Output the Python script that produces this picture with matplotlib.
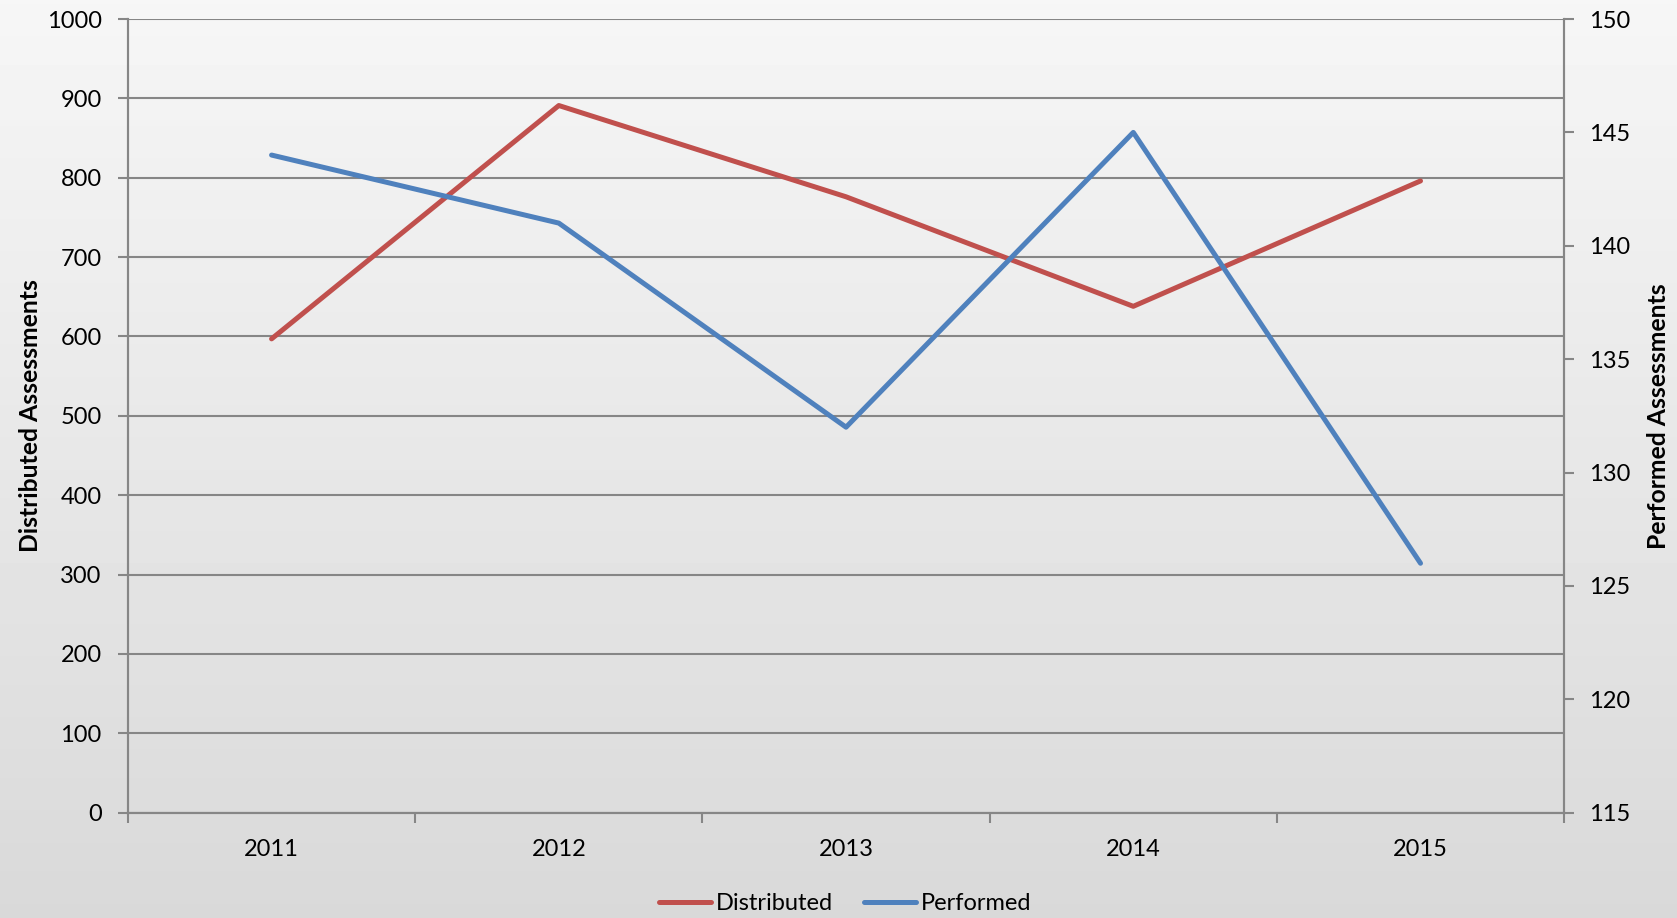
import matplotlib
matplotlib.use("Agg")
import matplotlib.pyplot as plt
import numpy as np

years = ["2011", "2012", "2013", "2014", "2015"]
distributed = [597, 891, 776, 638, 796]
performed = [144, 141, 132, 145, 126]

red = "#C0504D"
blue = "#4F81BD"
grey = "#868686"

plt.rcParams["font.family"] = ["Lato", "DejaVu Sans"]

fig = plt.figure(figsize=(16.77, 9.18), dpi=100)

# gradient background over the whole figure
bg = fig.add_axes([0, 0, 1, 1], zorder=-10)
grad = np.linspace(0.965, 0.85, 256).reshape(-1, 1)
bg.imshow(grad, aspect="auto", cmap="gray", vmin=0, vmax=1, extent=[0, 1, 0, 1])
bg.axis("off")

ax = fig.add_axes([0.0763, 0.1147, 0.8564, 0.8646])
ax.set_facecolor("none")
ax2 = ax.twinx()

x = np.arange(1, len(years) + 1)
ax.plot(x, distributed, color=red, lw=3.6, solid_capstyle="round", label="Distributed", zorder=3)
ax2.plot(x, performed, color=blue, lw=3.6, solid_capstyle="round", label="Performed", zorder=3)

ax.set_xlim(0.5, len(years) + 0.5)
ax.set_ylim(0, 1000)
ax.set_yticks(np.arange(0, 1001, 100))
ax2.set_ylim(115, 150)
ax2.set_yticks(np.arange(115, 151, 5))

ax.set_xticks(x)
ax.set_xticklabels(years)
ax.set_xticks(np.arange(0.5, len(years) + 1, 1), minor=True)
ax.tick_params(axis="x", which="major", length=0, pad=19, labelsize=17)
ax.tick_params(axis="x", which="minor", length=7, width=1.5, color=grey, direction="out")
ax.tick_params(axis="y", length=7, width=1.5, color=grey, pad=12, labelsize=17)
ax2.tick_params(axis="y", length=7, width=1.5, color=grey, pad=11, labelsize=17)

ax.grid(axis="y", color=grey, lw=1.5)
ax.set_axisbelow(True)

for a in (ax, ax2):
    for s in a.spines.values():
        s.set_color(grey)
        s.set_linewidth(1.5)
    a.spines["top"].set_visible(False)

ax.set_ylabel("Distributed Assessments", fontsize=17.8, fontweight="bold")
ax2.set_ylabel("Performed Assessments", fontsize=17.8, fontweight="bold", rotation=90)
ax.yaxis.set_label_coords(-0.060, 0.5)
ax2.yaxis.set_label_coords(1.058, 0.5)

h1, l1 = ax.get_legend_handles_labels()
h2, l2 = ax2.get_legend_handles_labels()
fig.legend(h1 + h2, l1 + l2, loc="center", bbox_to_anchor=(0.504, 0.016), ncol=2,
           frameon=False, fontsize=17, handlelength=2.2, handletextpad=0.2,
           columnspacing=1.3)

fig.savefig("out.png", dpi=100)
